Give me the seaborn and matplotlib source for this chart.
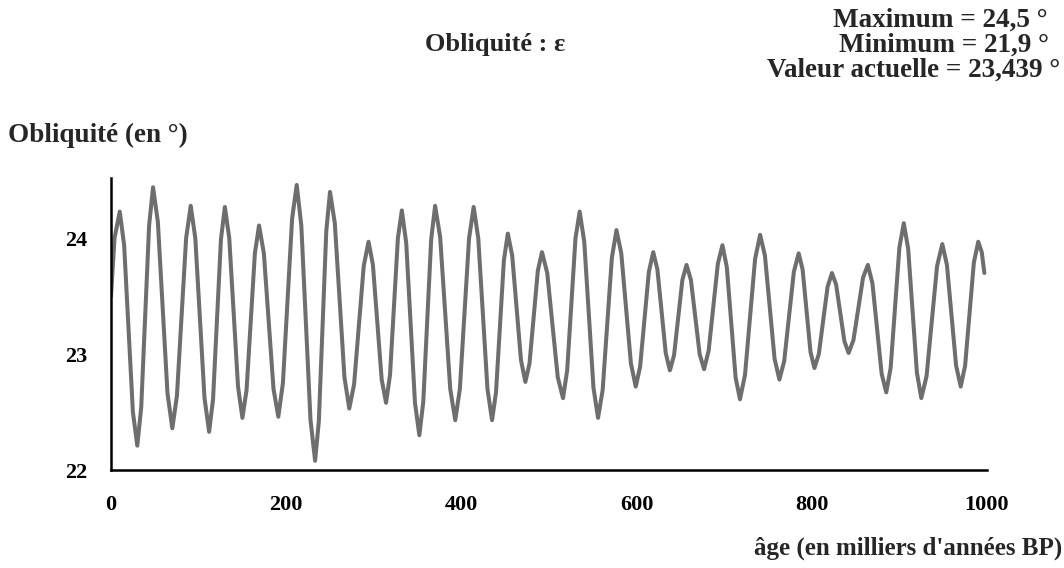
import numpy as np
import pandas as pd
import matplotlib
matplotlib.use("Agg")
import matplotlib.pyplot as plt
import seaborn as sns

# Obliquity curve: extrema plus shoulder points (age in kyr BP, value in deg)
ages = [0, 4, 10, 15, 25, 30, 34.5, 43.5, 48, 53.5, 64.5, 70, 75.25, 85.75, 91,
        96.25, 106.75, 112, 116.5, 125.5, 130, 135, 145, 150, 154.75, 164.25, 169,
        174.5, 185.5, 191, 196.25, 206.75, 212, 217.25, 227.75, 233, 237.25, 245.75,
        250, 255.5, 266.5, 272, 277.5, 288.5, 294, 299, 309, 314, 318.5, 327.5, 332,
        337, 347, 352, 356.5, 365.5, 370, 375.75, 387.25, 393, 398.25, 408.75, 414,
        419.25, 429.75, 435, 439.5, 448.5, 453, 458, 468, 473, 477.75, 487.25, 492,
        498, 510, 516, 520.75, 530.25, 535, 540.25, 550.75, 556, 561.25, 571.75, 577,
        582.5, 593.5, 599, 604, 614, 619, 623.75, 633.25, 638, 642.75, 652.25, 657,
        662, 672, 677, 682.25, 692.75, 698, 703, 713, 718, 723.75, 735.25, 741,
        746.5, 757.5, 763, 768.5, 779.5, 785, 789.5, 798.5, 803, 808, 818, 823,
        827.75, 837.25, 842, 847.5, 858.5, 864, 869.25, 879.75, 885, 890, 900, 905,
        910, 920, 925, 931, 943, 949, 954.25, 964.75, 970, 975, 985, 990, 994, 997]
obliquity = [23.50, 24.00, 24.23, 23.94, 22.50, 22.21, 22.54, 24.11, 24.44, 24.14,
             22.66, 22.36, 22.64, 24.00, 24.28, 24.00, 22.62, 22.33, 22.61, 23.99,
             24.27, 24.00, 22.72, 22.45, 22.69, 23.87, 24.11, 23.87, 22.70, 22.46,
             22.75, 24.17, 24.46, 24.11, 22.43, 22.08, 22.42, 24.06, 24.40, 24.13,
             22.80, 22.53, 22.74, 23.76, 23.97, 23.77, 22.78, 22.58, 22.82, 24.00,
             24.24, 23.96, 22.58, 22.30, 22.59, 23.99, 24.28, 24.01, 22.70, 22.43,
             22.70, 24.00, 24.27, 24.00, 22.70, 22.43, 22.67, 23.81, 24.04, 23.85,
             22.95, 22.76, 22.92, 23.72, 23.88, 23.70, 22.80, 22.62, 22.86, 24.00,
             24.23, 23.97, 22.71, 22.45, 22.69, 23.83, 24.07, 23.87, 22.92, 22.72,
             22.89, 23.71, 23.88, 23.73, 23.01, 22.86, 22.99, 23.64, 23.77, 23.64,
             23.00, 22.87, 23.03, 23.78, 23.94, 23.75, 22.80, 22.61, 22.82, 23.82,
             24.03, 23.85, 22.96, 22.78, 22.94, 23.71, 23.87, 23.73, 23.02, 22.88,
             23.00, 23.58, 23.70, 23.60, 23.11, 23.01, 23.12, 23.66, 23.77, 23.61,
             22.83, 22.67, 22.88, 23.92, 24.13, 23.91, 22.84, 22.62, 22.81, 23.76,
             23.95, 23.77, 22.90, 22.72, 22.90, 23.79, 23.97, 23.88, 23.70]
x_ticks = [0, 200, 400, 600, 800, 1000]
y_ticks = [22, 23, 24]

sns.set_theme(style="white")
plt.rcParams['font.family'] = ['Liberation Serif', 'DejaVu Serif']
plt.rcParams['font.weight'] = 'bold'

fig = plt.figure(figsize=(10.64, 5.68), dpi=100)
ax = fig.add_axes([111/1064, 98/568, (987-111)/1064, (470-178)/568])

df = pd.DataFrame({"age": ages, "obl": obliquity})
sns.lineplot(data=df, x="age", y="obl", ax=ax, color="#6e6e6e", linewidth=2.9,
             estimator=None, sort=False)
for l in ax.lines:
    l.set_solid_joinstyle('round')
    l.set_solid_capstyle('round')

ax.set_xlim(0, 1000)
ax.set_ylim(22, 24.52)
ax.set_xticks(x_ticks)
ax.set_yticks(y_ticks)
ax.set_xticklabels([str(v) for v in x_ticks], fontsize=16, fontweight='bold')
ax.set_yticklabels([str(v) for v in y_ticks], fontsize=16, fontweight='bold')
ax.set_xlabel("")
ax.set_ylabel("")
for s in ['top', 'right']:
    ax.spines[s].set_visible(False)
for s in ['left', 'bottom']:
    ax.spines[s].set_color('black')
    ax.spines[s].set_linewidth(1.8)
ax.tick_params(axis='x', direction='inout', length=8, width=1.5, colors='black', pad=14)
ax.tick_params(axis='y', direction='out', length=6, width=1.5, colors='black', pad=11)
ax.patch.set_alpha(0)
ax.grid(False)

fig.text(495/1064, 1 - 45/568, "Obliquité : ε", ha='center', va='center', fontsize=19, fontweight='bold')
fig.text(1048/1064, 1 - 20/568, "Maximum = 24,5 °", ha='right', va='center', fontsize=19.5, fontweight='bold')
fig.text(1049/1064, 1 - 45/568, "Minimum = 21,9 °", ha='right', va='center', fontsize=19.5, fontweight='bold')
fig.text(1060/1064, 1 - 70/568, "Valeur actuelle = 23,439 °", ha='right', va='center', fontsize=19.5, fontweight='bold')
fig.text(8/1064, 1 - 135/568, "Obliquité (en °)", ha='left', va='center', fontsize=19.5, fontweight='bold')
fig.text(1062/1064, 1 - 548/568, "âge (en milliers d'années BP)", ha='right', va='center', fontsize=18, fontweight='bold')

fig.savefig("out.png", dpi=100, facecolor='white')
